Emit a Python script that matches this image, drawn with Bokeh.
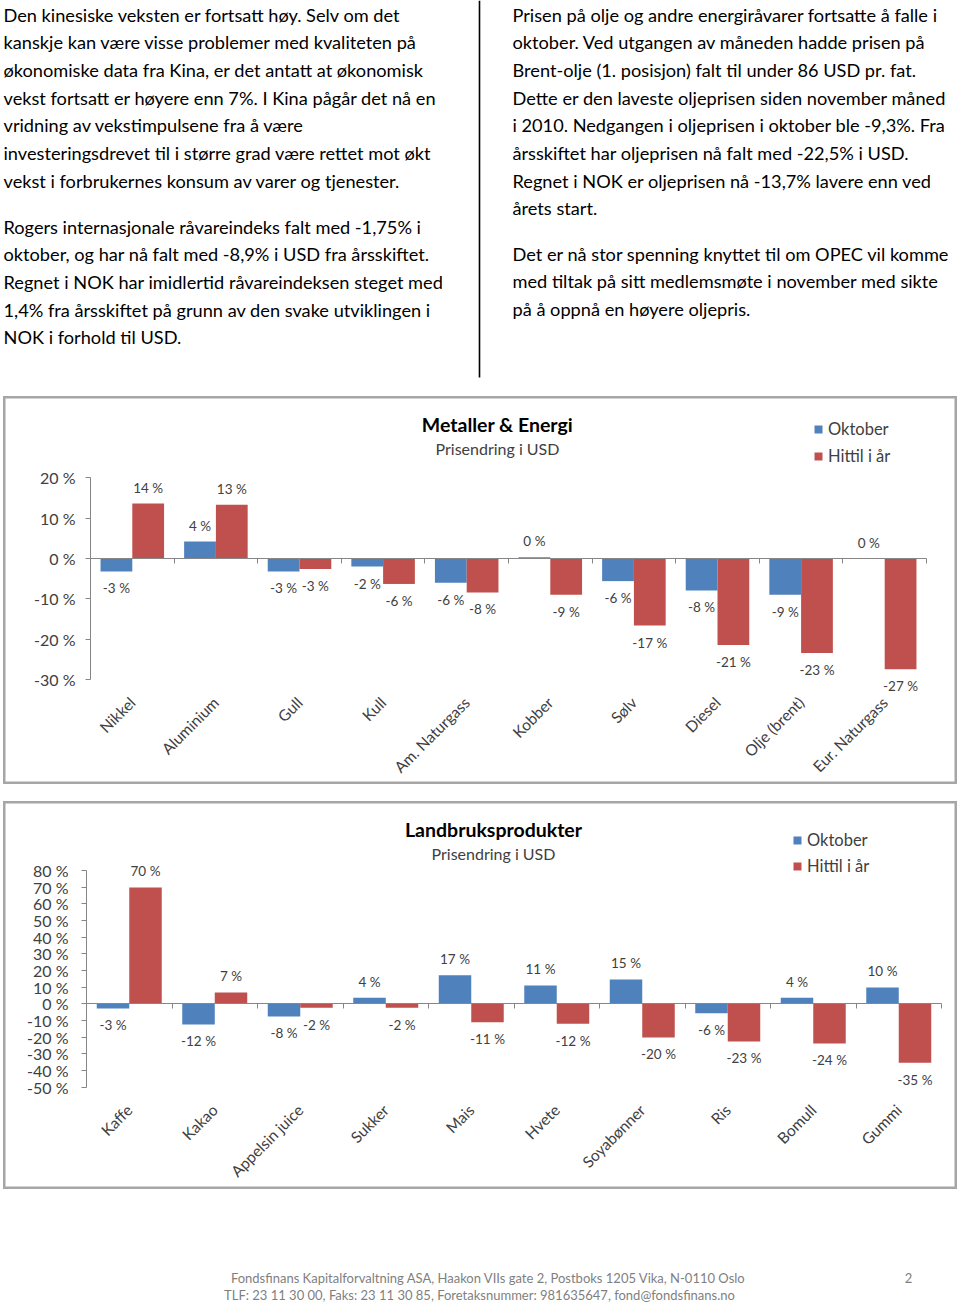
from math import pi
from bokeh.plotting import figure
from bokeh.models import (ColumnDataSource, Range1d, FixedTicker, LinearAxis,
                          PrintfTickFormatter, LabelSet, Label, Legend, LegendItem,
                          Spacer)
from bokeh.layouts import column, row
from bokeh.core.properties import value
from bokeh.embed import file_html
from bokeh.resources import INLINE

# ---------------- data ----------------
left_par1 = [
    "Den kinesiske veksten er fortsatt høy. Selv om det",
    "kanskje kan være visse problemer med kvaliteten på",
    "økonomiske data fra Kina, er det antatt at økonomisk",
    "vekst fortsatt er høyere enn 7%. I Kina pågår det nå en",
    "vridning av vekstimpulsene fra å være",
    "investeringsdrevet til i større grad være rettet mot økt",
    "vekst i forbrukernes konsum av varer og tjenester.",
]
left_par2 = [
    "Rogers internasjonale råvareindeks falt med -1,75% i",
    "oktober, og har nå falt med -8,9% i USD fra årsskiftet.",
    "Regnet i NOK har imidlertid råvareindeksen steget med",
    "1,4% fra årsskiftet på grunn av den svake utviklingen i",
    "NOK i forhold til USD.",
]
right_par1 = [
    "Prisen på olje og andre energiråvarer fortsatte å falle i",
    "oktober. Ved utgangen av måneden hadde prisen på",
    "Brent-olje (1. posisjon) falt til under 86 USD pr. fat.",
    "Dette er den laveste oljeprisen siden november måned",
    "i 2010. Nedgangen i oljeprisen i oktober ble -9,3%. Fra",
    "årsskiftet har oljeprisen nå falt med -22,5% i USD.",
    "Regnet i NOK er oljeprisen nå -13,7% lavere enn ved",
    "årets start.",
]
right_par2 = [
    "Det er nå stor spenning knyttet til om OPEC vil komme",
    "med tiltak på sitt medlemsmøte i november med sikte",
    "på å oppnå en høyere oljepris.",
]

metals_title = "Metaller & Energi"
agri_title = "Landbruksprodukter"
subtitle = "Prisendring i USD"
series_names = ["Oktober", "Hittil i år"]

metals_cats = ["Nikkel", "Aluminium", "Gull", "Kull", "Am. Naturgass", "Kobber",
               "Sølv", "Diesel", "Olje (brent)", "Eur. Naturgass"]
metals_okt = [-3.2, 4.2, -3.2, -2.0, -6.0, 0.3, -5.6, -7.9, -9.0, 0.0]
metals_ytd = [13.6, 13.3, -2.6, -6.3, -8.4, -9.0, -16.6, -21.4, -23.4, -27.4]
metals_ticks = [-30, -20, -10, 0, 10, 20]

agri_cats = ["Kaffe", "Kakao", "Appelsin juice", "Sukker", "Mais", "Hvete",
             "Soyabønner", "Ris", "Bomull", "Gummi"]
agri_okt = [-2.8, -12.4, -7.6, 3.6, 17.2, 11.0, 14.6, -5.6, 3.6, 9.8]
agri_ytd = [69.8, 6.8, -2.4, -2.4, -11.0, -12.0, -20.2, -22.6, -23.8, -35.4]
agri_ticks = [-50, -40, -30, -20, -10, 0, 10, 20, 30, 40, 50, 60, 70, 80]

footer_1 = "Fondsfinans Kapitalforvaltning ASA, Haakon VIIs gate 2, Postboks 1205 Vika, N-0110 Oslo"
footer_2 = "TLF: 23 11 30 00, Faks: 23 11 30 85, Foretaksnummer: 981635647, fond@fondsfinans.no"
page_no = "2"

# ---------------- styling ----------------
PAGE_W = 960
BODY_FONT = "Lato"
BLUE = "#4f81bd"
RED = "#c0504d"
GREY_TXT = "#404040"
AXIS_GREY = "#868686"


def blank_fig(width, height):
    f = figure(width=width, height=height, x_range=Range1d(0, width),
               y_range=Range1d(height, 0), output_backend="svg",
               toolbar_location=None, x_axis_type=None, y_axis_type=None,
               min_border=0, outline_line_color=None)
    f.xgrid.visible = False
    f.ygrid.visible = False
    return f


# ---------------- text block ----------------
TXT_H = 396
txt = blank_fig(PAGE_W, TXT_H)
LH = 27.7


def put_par(lines, x0, y0):
    src = ColumnDataSource(dict(x=[x0] * len(lines),
                                y=[y0 + i * LH for i in range(len(lines))],
                                t=lines))
    txt.text(x="x", y="y", text="t", source=src, text_font=value(BODY_FONT),
             text_font_size="18.2px", text_baseline="middle", text_align="left",
             text_color="black")


put_par(left_par1, 3, 14)
put_par(left_par2, 3, 226)
put_par(right_par1, 512, 14)
put_par(right_par2, 512, 253)
txt.segment(x0=[479], y0=[0], x1=[479], y1=[377], line_color="black", line_width=1.6)


# ---------------- charts ----------------
CH_W, CH_H = 954, 388


def make_chart(title, cats, okt, ytd, ylo, yhi, ticks, ax_px, cw, zero_px, ppu,
               legend_loc, legend_spacing, std):
    n = len(cats)
    x_range = Range1d(-ax_px / cw, (CH_W - ax_px) / cw)
    y_range = Range1d(-(CH_H - zero_px) / ppu, zero_px / ppu)
    p = figure(width=CH_W, height=CH_H, x_range=x_range, y_range=y_range,
               output_backend="svg", toolbar_location=None, min_border=0,
               x_axis_type=None, y_axis_type=None,
               outline_line_color="#a6a6a6", outline_line_width=4)
    p.xgrid.visible = False
    p.ygrid.visible = False

    centers = [i + 0.5 for i in range(n)]
    src = ColumnDataSource(dict(
        xc=centers,
        xo=[c - 0.19 for c in centers],
        xy=[c + 0.19 for c in centers],
        okt=okt, ytd=ytd,
        okt_lbl=[f"{round(v)} %" for v in okt],
        ytd_lbl=[f"{round(v)} %" for v in ytd],
        okt_off=[16 if v >= 0 else -17 for v in okt],
        ytd_off=[16 if v >= 0 else -17 for v in ytd],
    ))
    r1 = p.vbar(x="xo", top="okt", width=0.38, source=src,
                fill_color=BLUE, line_color=None)
    r2 = p.vbar(x="xy", top="ytd", width=0.38, source=src,
                fill_color=RED, line_color=None)

    for xf, fld, lbl, off in (("xo", "okt", "okt_lbl", "okt_off"),
                              ("xy", "ytd", "ytd_lbl", "ytd_off")):
        p.add_layout(LabelSet(x=xf, y=fld, text=lbl, y_offset=off, source=src,
                              text_align="center", text_baseline="middle",
                              text_font_size="13.5px", text_font=value(BODY_FONT),
                              text_color=GREY_TXT))

    # value axis (inside the frame, at the first category boundary)
    ya = LinearAxis(fixed_location=0, bounds=(ylo, yhi),
                    ticker=FixedTicker(ticks=ticks),
                    formatter=PrintfTickFormatter(format="%d %%"))
    ya.axis_line_color = AXIS_GREY
    ya.major_tick_line_color = AXIS_GREY
    ya.major_tick_out = 5
    ya.major_tick_in = 0
    ya.minor_tick_line_color = None
    ya.major_label_text_font_size = "16px"
    ya.major_label_text_font = BODY_FONT
    ya.major_label_text_color = GREY_TXT
    ya.major_label_standoff = std
    p.add_layout(ya, "left")

    # category axis line at zero with ticks between categories
    za = LinearAxis(fixed_location=0, bounds=(0, n),
                    ticker=FixedTicker(ticks=list(range(n + 1))))
    za.axis_line_color = AXIS_GREY
    za.major_tick_line_color = AXIS_GREY
    za.major_tick_out = 5
    za.major_tick_in = 0
    za.minor_tick_line_color = None
    za.major_label_text_color = None
    p.add_layout(za, "below")

    # category labels at the bottom of the value axis
    ca = LinearAxis(fixed_location=ylo, ticker=FixedTicker(ticks=centers),
                    major_label_overrides={c: name for c, name in zip(centers, cats)})
    ca.axis_line_color = None
    ca.major_tick_line_color = None
    ca.minor_tick_line_color = None
    ca.major_label_orientation = pi / 4
    ca.major_label_text_font_size = "15.5px"
    ca.major_label_text_font = BODY_FONT
    ca.major_label_text_color = GREY_TXT
    ca.major_label_standoff = 14
    p.add_layout(ca, "below")

    return p, r1, r2


def add_titles(p, title, cx_px, ax_px, cw, zero_px, ppu, ty1, ty2):
    p.add_layout(Label(x=(cx_px - ax_px) / cw, y=(zero_px - ty1) / ppu, text=title,
                       text_align="center", text_baseline="middle",
                       text_font_size="19.5px", text_font_style="bold",
                       text_font=BODY_FONT, text_color="black"))
    p.add_layout(Label(x=(cx_px - ax_px) / cw, y=(zero_px - ty2) / ppu, text=subtitle,
                       text_align="center", text_baseline="middle",
                       text_font_size="16px", text_font=BODY_FONT,
                       text_color=GREY_TXT))


def add_legend(p, r1, r2, loc, spacing):
    legend = Legend(items=[LegendItem(label=series_names[0], renderers=[r1]),
                           LegendItem(label=series_names[1], renderers=[r2])],
                    location=loc, orientation="vertical",
                    border_line_color=None, background_fill_alpha=0,
                    padding=0, margin=0, spacing=spacing, glyph_width=10,
                    glyph_height=10, label_height=20, label_standoff=5,
                    label_text_font_size="16.5px", label_text_font=BODY_FONT,
                    label_text_color=GREY_TXT)
    p.add_layout(legend)


# chart 1 geometry (pixels inside the chart box)
C1_AX, C1_CW, C1_ZERO, C1_PPU = 87, 83.6, 162, 4.04
chart1, a1, b1 = make_chart(metals_title, metals_cats, metals_okt, metals_ytd,
                            -30, 20, metals_ticks, C1_AX, C1_CW, C1_ZERO, C1_PPU,
                            None, 7, 10)
add_titles(chart1, metals_title, 494, C1_AX, C1_CW, C1_ZERO, C1_PPU, 28, 52)
add_legend(chart1, a1, b1, (810, 318), 7)

C2_AX, C2_CW, C2_ZERO, C2_PPU = 83, 85.5, 202.3, 1.667
chart2, a2, b2 = make_chart(agri_title, agri_cats, agri_okt, agri_ytd,
                            -50, 80, agri_ticks, C2_AX, C2_CW, C2_ZERO, C2_PPU,
                            None, 6, 13)
add_titles(chart2, agri_title, 490, C2_AX, C2_CW, C2_ZERO, C2_PPU, 28, 52)
add_legend(chart2, a2, b2, (789, 313), 6)

# ---------------- footer ----------------
FOOT_H = 113
foot = blank_fig(PAGE_W, FOOT_H)
foot.text(x=[488, 479, 908], y=[88, 105, 88], text=[footer_1, footer_2, page_no],
          text_font=value(BODY_FONT), text_font_size="13px", text_baseline="middle",
          text_align="center", text_color="#7f7f7f")

layout = column(txt,
                row(Spacer(width=3, height=CH_H), chart1),
                Spacer(width=PAGE_W, height=17),
                row(Spacer(width=3, height=CH_H), chart2),
                foot)

with open("out.html", "w") as fh:
    fh.write(file_html(layout, INLINE))
